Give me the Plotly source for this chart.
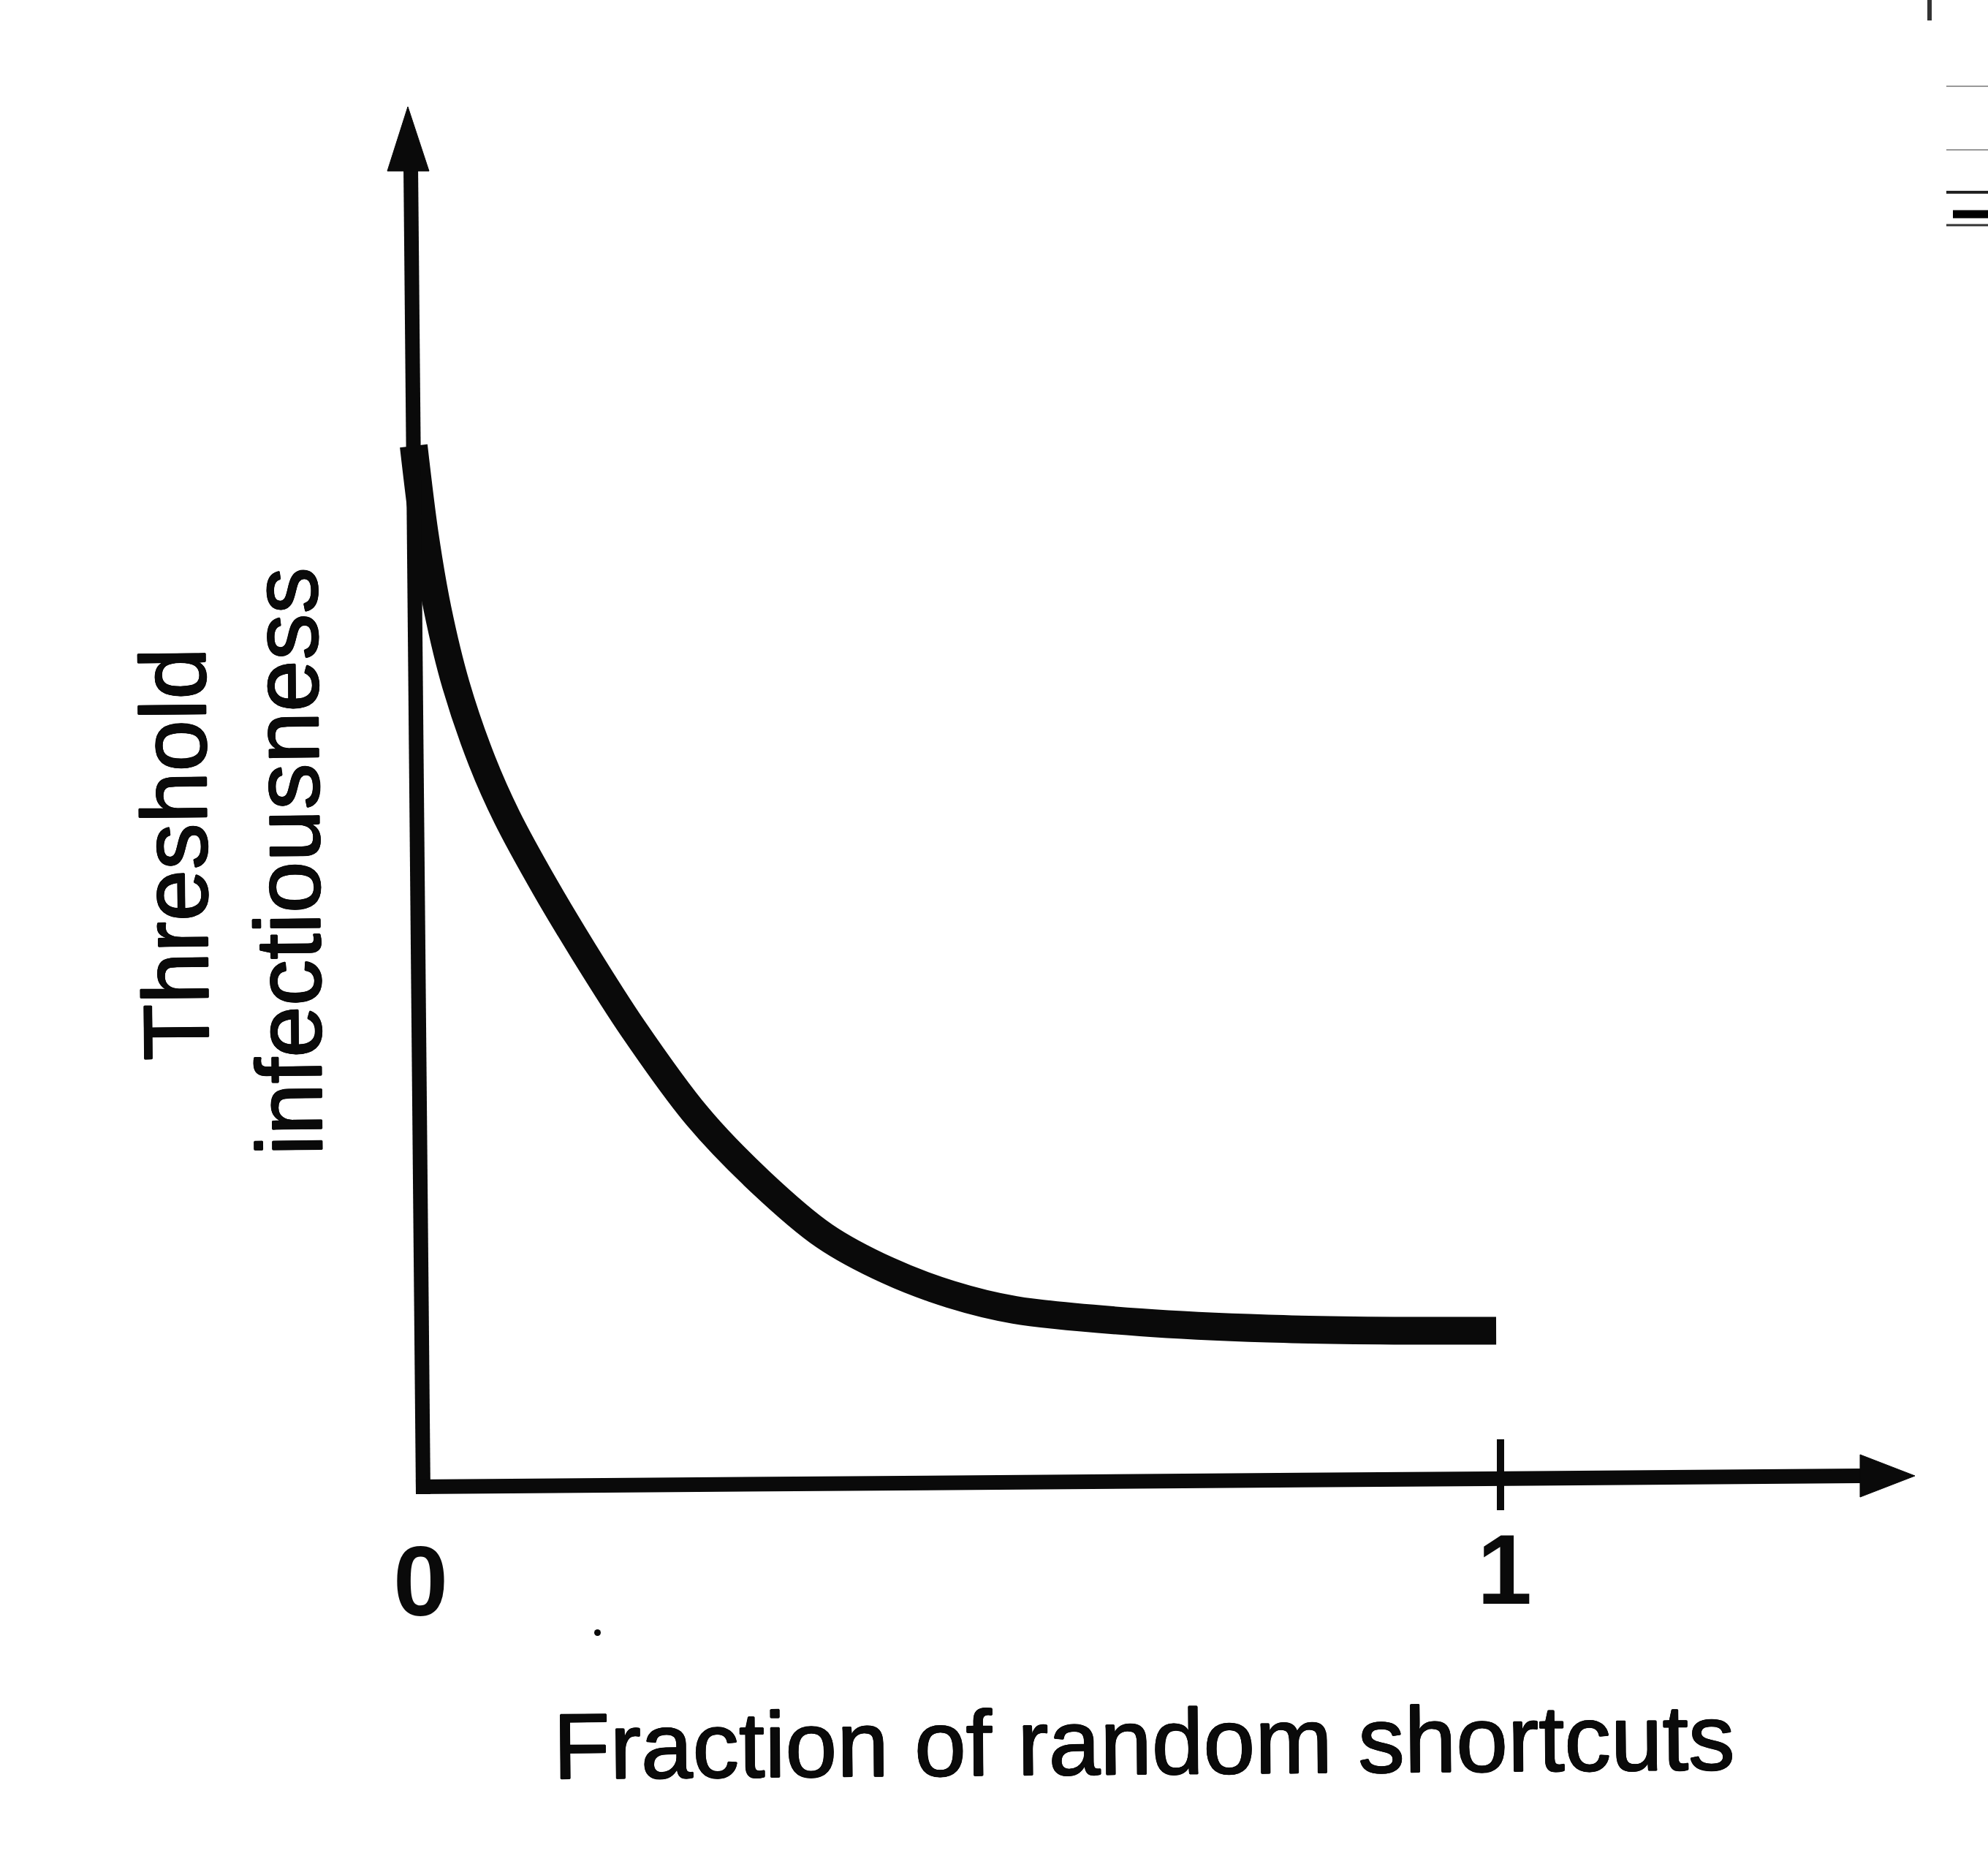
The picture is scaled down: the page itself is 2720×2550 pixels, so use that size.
import plotly.graph_objects as go

# ---------------- data ----------------
fraction = [0.000, 0.010, 0.022, 0.039, 0.063, 0.086, 0.121, 0.156, 0.202,
            0.261, 0.319, 0.378, 0.436, 0.494, 0.553, 0.669, 0.786, 0.902,
            0.996]
threshold = [1.000, 0.916, 0.843, 0.770, 0.697, 0.643, 0.576, 0.515, 0.440,
             0.356, 0.293, 0.241, 0.208, 0.185, 0.170, 0.158, 0.152, 0.150,
             0.150]
tick_values = [0, 1]
tick_labels = ["0", "1"]
x_title = "Fraction of random shortcuts"
y_title_lines = ["Threshold", "infectiousness"]

# ---------------- layout geometry (pixels of the 2720x2550 page) ----------------
W, H = 2720, 2550
X0_PX, X1_PX = 566, 2053      # pixel columns of x = 0 and x = 1
Y0_PX, YUNIT_PX = 2034, 1424  # pixel row of y = 0, pixels per y unit


def px2x(px):
    return (px - X0_PX) / (X1_PX - X0_PX)


def py2y(py):
    return (Y0_PX - py) / YUNIT_PX


def pxp(px):
    return px / W


def pyp(py):
    return 1 - py / H


INK = "#0a0a0a"
FONT = "Liberation Sans, Arial, Helvetica, sans-serif"
AXIS_W = 20
d = 1.0
e = 0.7
SHADOW = ", ".join([
    f"{d}px 0 0 {INK}", f"-{d}px 0 0 {INK}", f"0 {d}px 0 {INK}", f"0 -{d}px 0 {INK}",
    f"{e}px {e}px 0 {INK}", f"-{e}px -{e}px 0 {INK}", f"{e}px -{e}px 0 {INK}", f"-{e}px {e}px 0 {INK}",
])

fig = go.Figure()
fig.add_trace(go.Scatter(
    x=fraction, y=threshold, mode="lines",
    line=dict(color=INK, width=38, shape="spline", smoothing=0.9),
    hoverinfo="skip", showlegend=False,
))

shapes = []
# y axis shaft and arrowhead
shapes.append(dict(type="line", xref="paper", yref="paper",
                   x0=pxp(579), y0=pyp(2044), x1=pxp(562), y1=pyp(226),
                   line=dict(color=INK, width=AXIS_W)))
shapes.append(dict(type="path", xref="paper", yref="paper",
                   path="M {:.5f},{:.5f} L {:.5f},{:.5f} L {:.5f},{:.5f} Z".format(
                       pxp(558), pyp(146), pxp(530), pyp(234), pxp(587), pyp(234)),
                   fillcolor=INK, line=dict(color=INK, width=1)))
# x axis shaft and arrowhead
shapes.append(dict(type="line", xref="paper", yref="paper",
                   x0=pxp(569), y0=pyp(2034), x1=pxp(2552), y1=pyp(2019),
                   line=dict(color=INK, width=AXIS_W)))
shapes.append(dict(type="path", xref="paper", yref="paper",
                   path="M {:.5f},{:.5f} L {:.5f},{:.5f} L {:.5f},{:.5f} Z".format(
                       pxp(2620), pyp(2019), pxp(2545), pyp(1990), pxp(2545), pyp(2048)),
                   fillcolor=INK, line=dict(color=INK, width=1)))
# tick mark at x = 1
shapes.append(dict(type="line", xref="x", yref="paper",
                   x0=tick_values[1], x1=tick_values[1], y0=pyp(1969), y1=pyp(2066),
                   line=dict(color=INK, width=10)))
# small scan marks near the top right edge / specks
for (x0, y0, x1, y1, w, c) in [
    (2640, 0, 2640, 28, 6, "#333"),
    (2663, 118, 2720, 118, 2, "#999"),
    (2663, 205, 2720, 205, 2, "#999"),
    (2663, 263, 2720, 263, 4, "#222"),
    (2672, 293, 2720, 293, 11, "#000"),
    (2663, 308, 2720, 308, 3, "#333"),
]:
    shapes.append(dict(type="line", xref="paper", yref="paper",
                       x0=pxp(x0), y0=pyp(y0), x1=pxp(x1), y1=pyp(y1),
                       line=dict(color=c, width=w)))
shapes.append(dict(type="circle", xref="paper", yref="paper",
                   x0=pxp(813), y0=pyp(2229), x1=pxp(822), y1=pyp(2238),
                   fillcolor=INK, line=dict(width=0)))

annotations = []
# tick labels
for v, lab, xs, ypx in zip(tick_values, tick_labels, [9, 5], [2163, 2147]):
    annotations.append(dict(
        x=v, xref="x", y=pyp(ypx), yref="paper", text=lab, showarrow=False,
        xanchor="center", yanchor="middle", xshift=xs,
        font=dict(family=FONT, size=135, color=INK, weight="bold")))
# x title
annotations.append(dict(
    x=pxp(1565), y=pyp(2383), xref="paper", yref="paper", text=x_title,
    showarrow=False, xanchor="center", yanchor="middle", textangle=-0.45,
    font=dict(family=FONT, size=127, color=INK, shadow=SHADOW)))
# y title (two lines, rotated)
for line_txt, cx, cy in zip(y_title_lines, [239, 393], [1168, 1178]):
    annotations.append(dict(
        x=pxp(cx), y=pyp(cy), xref="paper", yref="paper", text=line_txt,
        showarrow=False, xanchor="center", yanchor="middle", textangle=-90.5,
        font=dict(family=FONT, size=127, color=INK, shadow=SHADOW)))

fig.update_layout(
    width=W, height=H,
    margin=dict(l=0, r=0, t=0, b=0, pad=0),
    paper_bgcolor="white", plot_bgcolor="white",
    showlegend=False,
    xaxis=dict(visible=False, range=[px2x(0), px2x(W)], fixedrange=True),
    yaxis=dict(visible=False, range=[py2y(H), py2y(0)], fixedrange=True),
    shapes=shapes, annotations=annotations,
)

fig.write_html(
    "out.html",
    config={"displayModeBar": False},
    post_script="document.body.style.margin='0';document.body.style.overflow='hidden';",
)
